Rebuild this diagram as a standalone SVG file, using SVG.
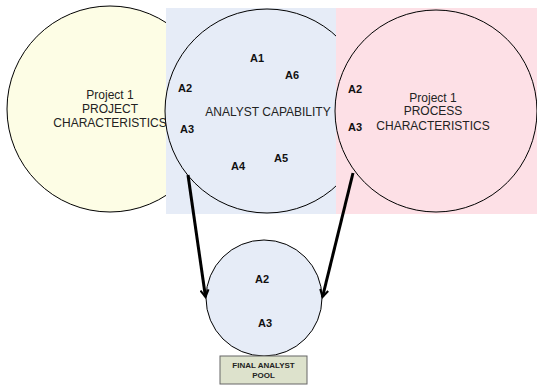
<svg xmlns="http://www.w3.org/2000/svg" width="537" height="385" viewBox="0 0 537 385">
<defs>
<style>
.lbl{font-family:"Liberation Sans",Arial,sans-serif;font-size:12px;fill:#222;text-anchor:middle}
.a{font-family:"Liberation Sans",Arial,sans-serif;font-size:11px;font-weight:bold;fill:#111;text-anchor:middle}
.sm{font-family:"Liberation Sans",Arial,sans-serif;font-size:8px;font-weight:bold;fill:#222;text-anchor:middle}
.circ{stroke:#000;stroke-width:1}
.conn{stroke:#000;stroke-width:3;fill:none}
</style>
<marker id="arr" viewBox="0 0 10 10" refX="8" refY="5" markerWidth="3.4" markerHeight="3.4" orient="auto" markerUnits="strokeWidth">
<path d="M1,1 L8,5 L1,9" fill="none" stroke="#000" stroke-width="2"/>
</marker>
</defs>
<rect width="537" height="385" fill="#fff"/>
<g id="project">
<circle class="circ" cx="110" cy="109" r="103" fill="#fdfde5"/>
<text class="lbl" x="110" y="99">Project 1</text>
<text class="lbl" x="110" y="112.5">PROJECT</text>
<text class="lbl" x="110" y="127">CHARACTERISTICS</text>
</g>
<g id="analyst">
<rect x="166" y="8" width="170" height="206" fill="#e6ecf7"/>
<circle class="circ" cx="267" cy="111" r="102" fill="#e6ecf7"/>
<text class="lbl" x="268" y="116">ANALYST CAPABILITY</text>
<text class="a" x="257" y="62">A1</text>
<text class="a" x="292" y="79">A6</text>
<text class="a" x="185" y="92">A2</text>
<text class="a" x="187" y="133">A3</text>
<text class="a" x="238" y="170">A4</text>
<text class="a" x="281" y="162">A5</text>
</g>
<g id="process">
<rect x="336" y="8" width="201" height="206" fill="#fde0e6"/>
<circle class="circ" cx="436" cy="111" r="101" fill="#fde0e6"/>
<text class="lbl" x="433" y="102">Project 1</text>
<text class="lbl" x="433" y="115">PROCESS</text>
<text class="lbl" x="433" y="130">CHARACTERISTICS</text>
<text class="a" x="355" y="93">A2</text>
<text class="a" x="355" y="131">A3</text>
</g>
<g id="pool">
<circle class="circ" cx="264" cy="298" r="58" fill="#e6ecf7"/>
<text class="a" x="262" y="283">A2</text>
<text class="a" x="265" y="327">A3</text>
</g>
<g id="pool-label">
<rect x="220" y="356" width="87" height="28" fill="#dde2cc" stroke="#666" stroke-width="1"/>
<text class="sm" x="263.5" y="368">FINAL ANALYST</text>
<text class="sm" x="263.5" y="378">POOL</text>
</g>
<g id="connectors">
<line class="conn" x1="188" y1="175" x2="205.5" y2="297" marker-end="url(#arr)"/>
<line class="conn" x1="353" y1="173" x2="322.5" y2="297" marker-end="url(#arr)"/>
</g>
</svg>
